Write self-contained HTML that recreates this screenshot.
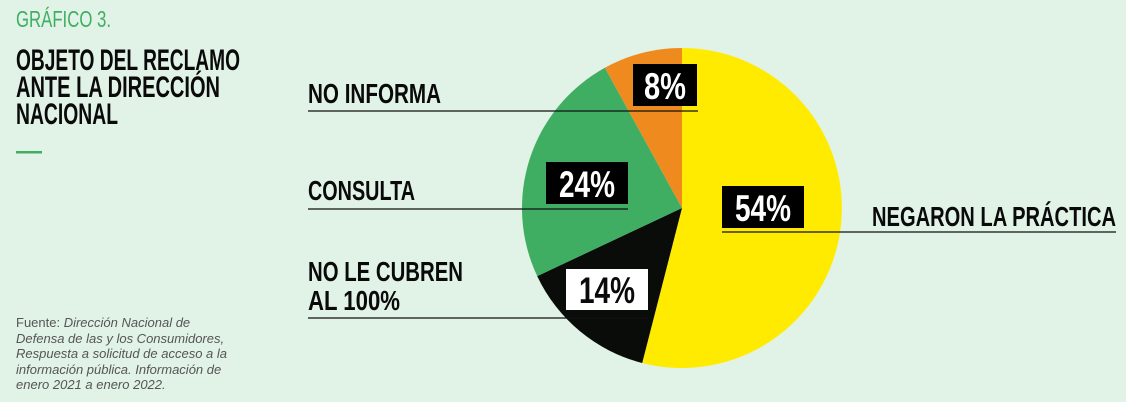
<!DOCTYPE html>
<html><head><meta charset="utf-8"><style>
html,body{margin:0;padding:0;background:#e1f2e6;}
svg{display:block;}
</style></head><body>
<svg width="1126" height="402" viewBox="0 0 1126 402" xmlns="http://www.w3.org/2000/svg" font-family="'Liberation Sans Narrow','Liberation Sans',sans-serif">
<rect width="1126" height="402" fill="#e1f2e6"/>
<text x="16" y="27" font-size="23" fill="#3fae62" textLength="95" lengthAdjust="spacingAndGlyphs">GRÁFICO 3.</text>
<g font-weight="bold" font-size="30" fill="#0a0a0a">
<text x="16" y="70" textLength="224" lengthAdjust="spacingAndGlyphs">OBJETO DEL RECLAMO</text>
<text x="16" y="97" textLength="204" lengthAdjust="spacingAndGlyphs">ANTE LA DIRECCIÓN</text>
<text x="16" y="124" textLength="102" lengthAdjust="spacingAndGlyphs">NACIONAL</text>
</g>
<rect x="16" y="151" width="26" height="2.5" fill="#3fae62"/>
<g font-family="'Liberation Sans',sans-serif" font-size="13" fill="#555">
<text x="16" y="327">Fuente: <tspan font-style="italic">Dirección Nacional de</tspan></text>
<text x="16" y="343" font-style="italic">Defensa de las y los Consumidores,</text>
<text x="16" y="358" font-style="italic">Respuesta a solicitud de acceso a la</text>
<text x="16" y="374" font-style="italic">información pública. Información de</text>
<text x="16" y="389" font-style="italic">enero 2021 a enero 2022.</text>
</g>
<g>
<path d="M682,208 L682,48 A160,160 0 1,1 642.2,363 Z" fill="#ffeb00"/>
<path d="M682,208 L642.2,363 A160,160 0 0,1 537.2,276.1 Z" fill="#0a0c0a"/>
<path d="M682,208 L537.2,276.1 A160,160 0 0,1 604.9,67.8 Z" fill="#3fae62"/>
<path d="M682,208 L604.9,67.8 A160,160 0 0,1 682,48 Z" fill="#ef8a1e"/>
</g>
<g stroke="#111" stroke-width="1.3">
<line x1="308" y1="111" x2="698" y2="111"/>
<line x1="308" y1="209" x2="628" y2="209"/>
<line x1="722" y1="232" x2="1116" y2="232"/>
<line x1="308" y1="318" x2="648" y2="318"/>
</g>
<rect x="633" y="64" width="64" height="42" fill="#000"/>
<rect x="546" y="162" width="82" height="42" fill="#000"/>
<rect x="722" y="186" width="82" height="42" fill="#000"/>
<rect x="566" y="269" width="82" height="41" fill="#fff"/>
<g font-weight="bold" font-size="37" text-anchor="middle">
<text x="665" y="99" fill="#fff" textLength="42" lengthAdjust="spacingAndGlyphs">8%</text>
<text x="587" y="197" fill="#fff" textLength="56" lengthAdjust="spacingAndGlyphs">24%</text>
<text x="763" y="221" fill="#fff" textLength="56" lengthAdjust="spacingAndGlyphs">54%</text>
<text x="607" y="303" fill="#0a0a0a" textLength="56" lengthAdjust="spacingAndGlyphs">14%</text>
</g>
<g font-weight="bold" font-size="28" fill="#0a0a0a">
<text x="308" y="103" textLength="133" lengthAdjust="spacingAndGlyphs">NO INFORMA</text>
<text x="308" y="200" textLength="107" lengthAdjust="spacingAndGlyphs">CONSULTA</text>
<text x="308" y="281" textLength="155" lengthAdjust="spacingAndGlyphs">NO LE CUBREN</text>
<text x="308" y="310" textLength="92" lengthAdjust="spacingAndGlyphs">AL 100%</text>
<text x="872" y="226" textLength="244" lengthAdjust="spacingAndGlyphs">NEGARON LA PRÁCTICA</text>
</g>
</svg>
</body></html>
